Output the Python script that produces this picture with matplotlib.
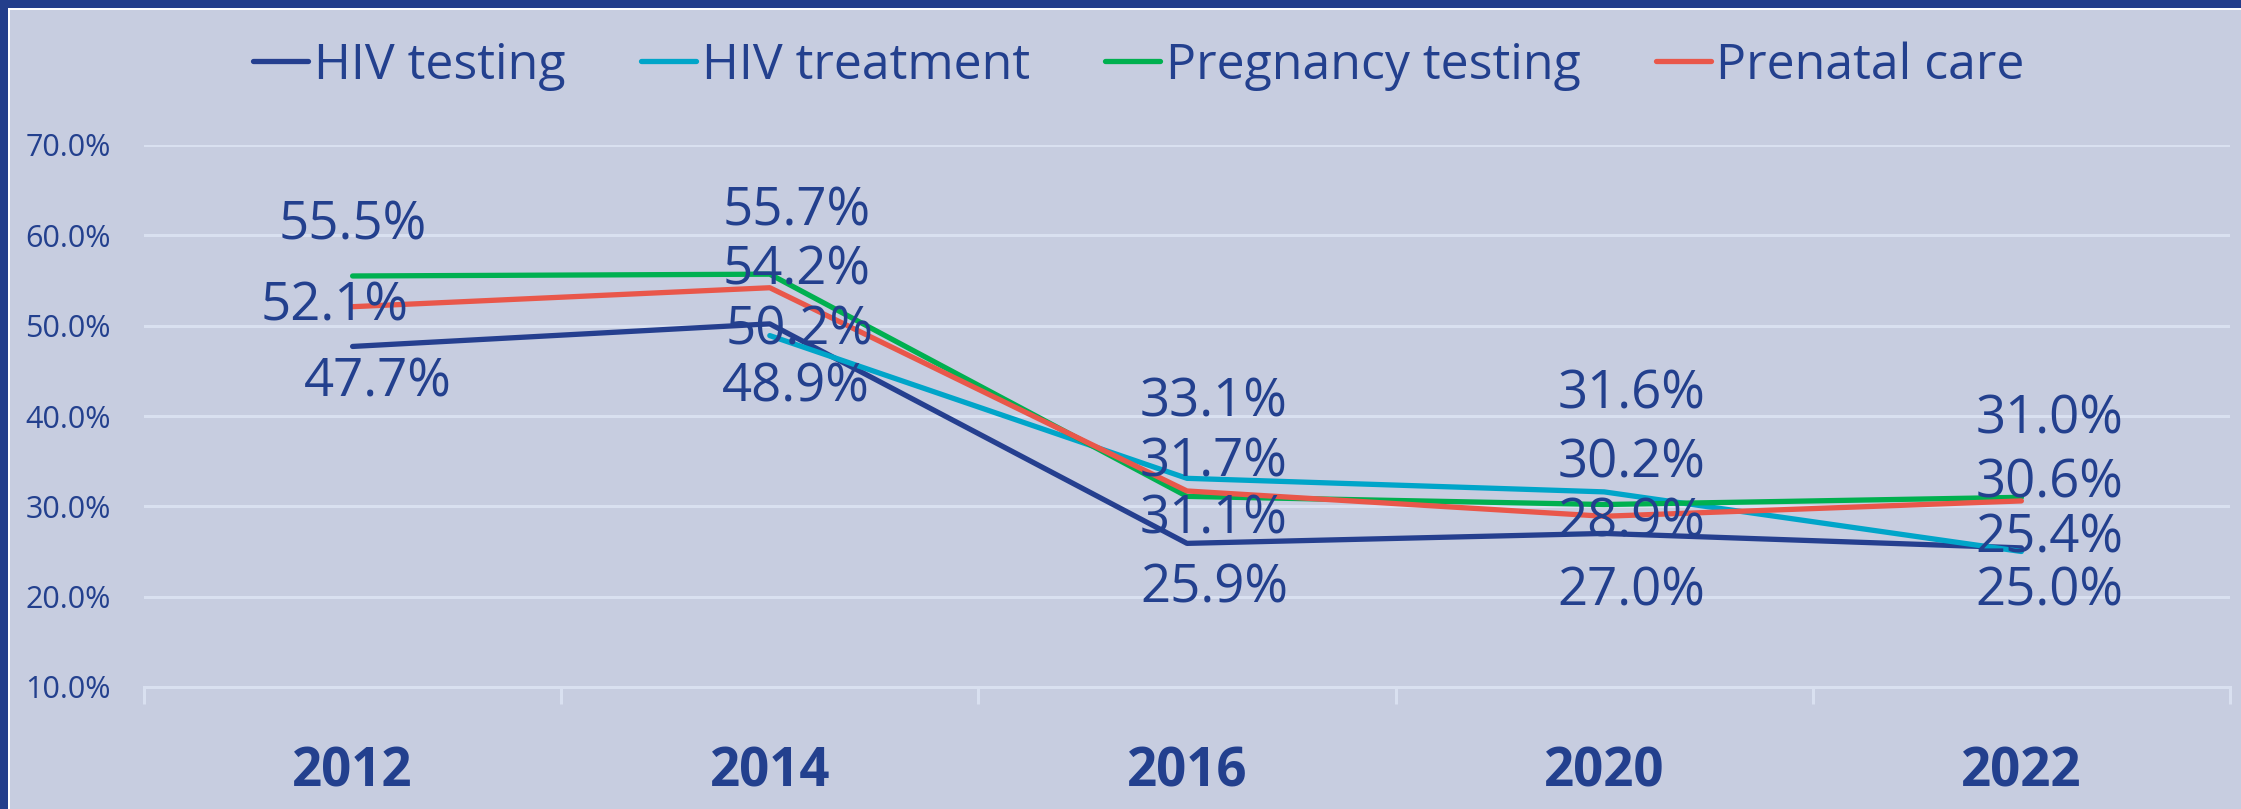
import matplotlib
matplotlib.use("Agg")
import matplotlib.pyplot as plt
from matplotlib.patches import Rectangle

years = ["2012", "2014", "2016", "2020", "2022"]
hiv_testing = [47.7, 50.2, 25.9, 27.0, 25.4]
hiv_treatment = [None, 48.9, 33.1, 31.6, 25.0]
pregnancy_testing = [55.5, 55.7, 31.1, 30.2, 31.0]
prenatal_care = [52.1, 54.2, 31.7, 28.9, 30.6]

NAVY = "#23408e"
BG = "#c7cde0"
GRID = "#d9e0f0"

series = [
    ("HIV testing", hiv_testing, "#253f8f"),
    ("HIV treatment", hiv_treatment, "#00a5c9"),
    ("Pregnancy testing", pregnancy_testing, "#00b050"),
    ("Prenatal care", prenatal_care, "#e9574a"),
]

# label nudges in pixels (dx, dy) so the stacked labels don't collide
label_offsets = {
    "HIV testing": [(25, -36), (30, -7), (27, -45), (27, -58), (28, 9)],
    "HIV treatment": [None, (26, -52), (27, 76), (27, 97), (28, -40)],
    "Pregnancy testing": [(0, 50), (27, 62), (27, -23), (27, 41), (28, 78)],
    "Prenatal care": [(-18, 0), (27, 17), (27, 28), (27, -6), (28, 17)],
}

plt.rcParams["font.family"] = ["Open Sans", "DejaVu Sans"]

W, H = 2241, 809
fig = plt.figure(figsize=(W / 100, H / 100), dpi=100, facecolor=BG)
ax = fig.add_axes([144 / W, 1 - 687 / H, (2230 - 144) / W, (687 - 145) / H])
ax.set_facecolor(BG)

x = list(range(len(years)))
for name, vals, color in series:
    xs = [i for i, v in zip(x, vals) if v is not None]
    ys = [v for v in vals if v is not None]
    ax.plot(xs, ys, color=color, lw=3.8, label=name,
            solid_capstyle="round", solid_joinstyle="round", zorder=3)
    for i, v in zip(xs, ys):
        dx, dy = label_offsets[name][i]
        ax.annotate(f"{v:.1f}%", (i, v), xytext=(dx, dy), textcoords="offset pixels",
                    ha="center", va="center", fontsize=38, color=NAVY, zorder=4)

ax.set_xlim(-0.5, len(years) - 0.5)
ax.set_ylim(10, 70)
ax.set_yticks(range(10, 71, 10))
ax.set_yticklabels([f"{t:.1f}%" for t in range(10, 71, 10)])
ax.yaxis.grid(True, color=GRID, lw=2.2, zorder=1)
ax.set_xticks(x)
ax.set_xticklabels(years, fontsize=38, fontweight="bold", color=NAVY)
ax.set_xticks([i - 0.5 for i in range(len(years) + 1)], minor=True)
ax.tick_params(axis="x", which="major", length=0, pad=42)
ax.tick_params(axis="x", which="minor", length=12, width=2.2, color=GRID)
ax.tick_params(axis="y", length=0, pad=24, labelsize=22, labelcolor=NAVY)
for side in ["top", "right", "left"]:
    ax.spines[side].set_visible(False)
ax.spines["bottom"].set_color(GRID)
ax.spines["bottom"].set_linewidth(2.2)

fig.legend(loc="center", bbox_to_anchor=(1139 / W, 1 - 66 / H), ncol=4, frameon=False,
           fontsize=36, labelcolor=NAVY, handlelength=1.1, handletextpad=0.12,
           columnspacing=1.5)

# dark frame along the top and left edge with a thin white inner line
fig.add_artist(Rectangle((0, 1 - 8 / H), 1, 8 / H, transform=fig.transFigure,
                         facecolor="#233e8b", edgecolor="none"))
fig.add_artist(Rectangle((0, 1 - 10 / H), 1, 2 / H, transform=fig.transFigure,
                         facecolor="white", edgecolor="none"))
fig.add_artist(Rectangle((0, 0), 8 / W, 1, transform=fig.transFigure,
                         facecolor="#233e8b", edgecolor="none"))
fig.add_artist(Rectangle((8 / W, 0), 2 / W, 1 - 8 / H, transform=fig.transFigure,
                         facecolor="white", edgecolor="none"))

fig.savefig("out.png", dpi=100, facecolor=BG)
